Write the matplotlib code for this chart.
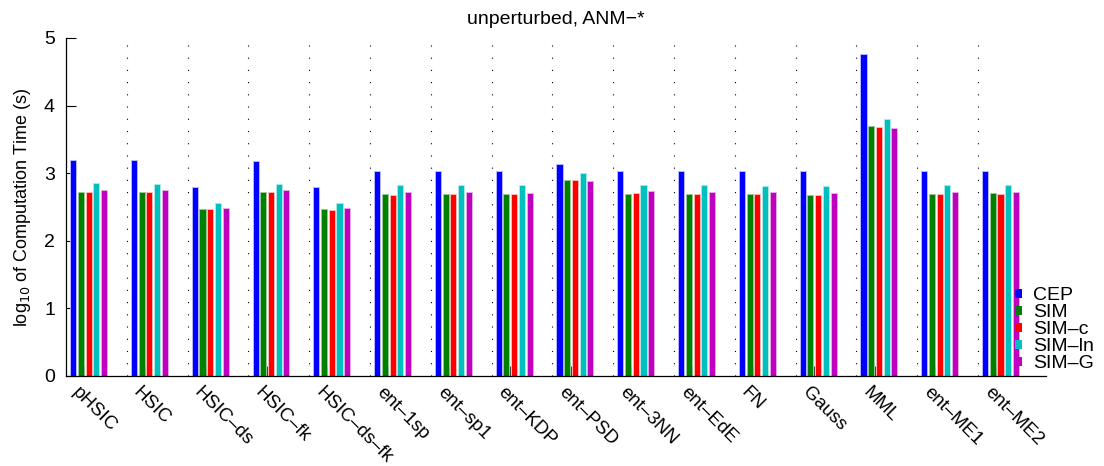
import numpy as np
import matplotlib
matplotlib.use("Agg")
import matplotlib.pyplot as plt
import matplotlib.transforms as mtransforms

plt.rcParams['font.family'] = ['Liberation Sans', 'DejaVu Sans']

methods = ['pHSIC', 'HSIC', 'HSIC\u2013ds', 'HSIC\u2013fk', 'HSIC\u2013ds\u2013fk',
           'ent\u20131sp', 'ent\u2013sp1', 'ent\u2013KDP', 'ent\u2013PSD', 'ent\u20133NN',
           'ent\u2013EdE', 'FN', 'Gauss', 'MML', 'ent\u2013ME1', 'ent\u2013ME2']
series_names = ['CEP', 'SIM', 'SIM\u2013c', 'SIM\u2013ln', 'SIM\u2013G']

cep   = [3.20, 3.20, 2.80, 3.18, 2.79, 3.03, 3.03, 3.03, 3.14, 3.03, 3.03, 3.03, 3.03, 4.76, 3.03, 3.03]
sim   = [2.72, 2.72, 2.47, 2.72, 2.47, 2.69, 2.69, 2.69, 2.90, 2.69, 2.69, 2.69, 2.68, 3.70, 2.69, 2.71]
sim_c = [2.72, 2.72, 2.47, 2.72, 2.46, 2.68, 2.69, 2.69, 2.90, 2.70, 2.69, 2.69, 2.68, 3.69, 2.69, 2.69]
sim_ln = [2.85, 2.84, 2.56, 2.84, 2.56, 2.82, 2.82, 2.82, 3.00, 2.82, 2.82, 2.81, 2.81, 3.80, 2.82, 2.82]
sim_g = [2.75, 2.75, 2.48, 2.75, 2.48, 2.72, 2.72, 2.71, 2.89, 2.74, 2.72, 2.72, 2.71, 3.67, 2.72, 2.72]

values = [cep, sim, sim_c, sim_ln, sim_g]
colors = [(0, 0, 1), (0, 0.5, 0), (1, 0, 0), (0, 0.75, 0.75), (0.75, 0, 0.75)]
edge_colors = [(0.75, 0.75, 1), (0.6, 0.8, 0.6), (1, 0.75, 0.75), (0.7, 0.92, 0.92), (0.9, 0.7, 0.9)]

fig = plt.figure(figsize=(11.04, 4.66), dpi=100)
ax = fig.add_axes([66 / 1104, 90 / 466, (1046 - 66) / 1104, (376 - 38) / 466])

x = np.arange(1, len(methods) + 1)
pitch = 0.127
width = 0.10
shift = 0.072
for j, (vals, col, ec) in enumerate(zip(values, colors, edge_colors)):
    ax.bar(x + shift + (j - 2) * pitch, vals, width=width, color=col,
           edgecolor=ec, linewidth=0.6, label=series_names[j], zorder=2)

# dotted separators between method groups
for xv in x[:-1] + 0.70:
    ax.axvline(xv, color='black', linestyle=(0, (1, 10)), linewidth=0.8, zorder=1)

ax.set_xlim(0.70, 16.82)
ax.set_ylim(0, 5)
ax.set_yticks([0, 1, 2, 3, 4, 5])
ax.set_xticks(x)
ax.set_xticklabels(methods, rotation=-45, ha='left', va='center',
                   rotation_mode='anchor', fontsize=13.5)
ax.tick_params(axis='x', direction='in', length=7, width=0.8, pad=10, colors='#444444',
               labelcolor='black')
ax.tick_params(axis='y', direction='in', length=7, width=0.8, pad=8, labelsize=14)
offset = mtransforms.ScaledTranslation(-9 / 100, 0, fig.dpi_scale_trans)
for lab in ax.get_xticklabels():
    lab.set_transform(lab.get_transform() + offset)
    lab.set_zorder(5)

ax.spines['top'].set_visible(False)
ax.spines['right'].set_visible(False)
ax.spines['left'].set_linewidth(0.9)
ax.spines['bottom'].set_linewidth(0.9)
ax.spines['bottom'].set_zorder(3)

ax.set_ylabel('log$_{10}$ of Computation Time (s)', fontsize=13, labelpad=8)
ax.set_title('unperturbed, ANM\u2212*', fontsize=14, pad=10)

leg = ax.legend(loc='lower left', bbox_to_anchor=(0.968, 0.011), frameon=False,
                fontsize=14, handlelength=0.4, handleheight=0.35, handletextpad=0.55,
                labelspacing=0.0, borderpad=0, borderaxespad=0)
for h in leg.legend_handles:
    h.set_edgecolor('none')

fig.savefig('out.png', dpi=100)
